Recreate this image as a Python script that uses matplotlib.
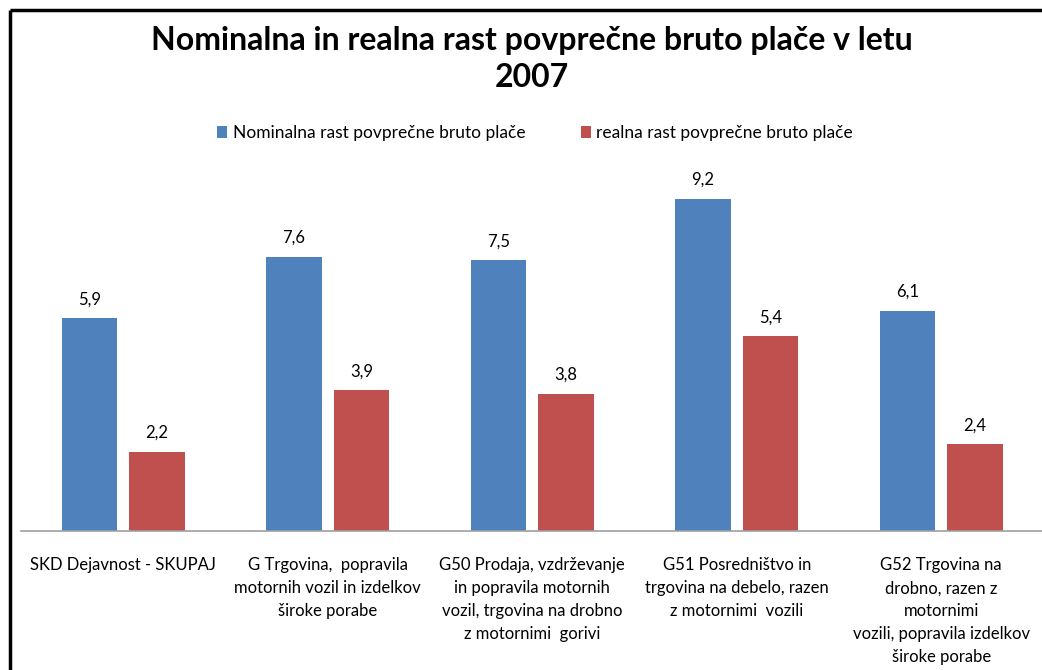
import numpy as np
import matplotlib.pyplot as plt
from matplotlib.lines import Line2D

plt.rcParams['font.family'] = ['Lato', 'DejaVu Sans']

# podatki
categories = [
    "SKD Dejavnost - SKUPAJ",
    "G Trgovina,  popravila\nmotornih vozil in izdelkov\nširoke porabe",
    "G50 Prodaja, vzdrževanje\nin popravila motornih\nvozil, trgovina na drobno\nz motornimi  gorivi",
    "G51 Posredništvo in\ntrgovina na debelo, razen\nz motornimi  vozili",
    "G52 Trgovina na\ndrobno, razen z\nmotornimi\nvozili, popravila izdelkov\nširoke porabe",
]
nominal = [5.9, 7.6, 7.5, 9.2, 6.1]
real = [2.2, 3.9, 3.8, 5.4, 2.4]
series_names = ["Nominalna rast povprečne bruto plače", "realna rast povprečne bruto plače"]

blue = "#4F81BD"
red = "#C0504D"

W, H = 1042, 670
fig = plt.figure(figsize=(W / 100, H / 100), dpi=100)

# okvir grafa (odrezan desno in spodaj) - samo zgornja in leva crta
fy = 1 - 10 / H
fx = 10 / W
fig.lines.append(Line2D([fx, 1.0], [fy, fy], transform=fig.transFigure, color="black",
                        linewidth=2.5, solid_capstyle="butt"))
fig.lines.append(Line2D([fx, fx], [0.0, fy], transform=fig.transFigure, color="black",
                        linewidth=2.5, solid_capstyle="butt"))

# ena kategorija = 204.5 px
cat_px = 204.5
ax = fig.add_axes([21 / W, 1 - 531 / H, (W - 21) / W, 361 / H])
x = np.arange(len(categories))
bw = 0.27
off = 0.165
b1 = ax.bar(x - off, nominal, bw, color=blue, label=series_names[0])
b2 = ax.bar(x + off, real, bw, color=red, label=series_names[1])

for bars, vals in ((b1, nominal), (b2, real)):
    for b, v in zip(bars, vals):
        ax.text(b.get_x() + b.get_width() / 2, v + 0.3, f"{v:.1f}".replace(".", ","),
                ha="center", va="bottom", fontsize=12)

ax.set_xlim(-0.5, -0.5 + (W - 21) / cat_px)
ax.set_ylim(0, 10)
ax.set_yticks([])
ax.set_xticks(x)
ax.set_xticklabels(categories, fontsize=12, linespacing=1.53)
ax.tick_params(axis="x", length=0, pad=19)
for s in ("top", "right", "left"):
    ax.spines[s].set_visible(False)
ax.spines["bottom"].set_color("#A0A0A0")
ax.spines["bottom"].set_linewidth(1.2)

fig.text(532 / W, 1 - 59 / H, "Nominalna in realna rast povprečne bruto plače v letu\n2007",
         ha="center", va="center", fontsize=23, fontweight="bold", linespacing=1.32)

fig.legend(handles=[b1, b2], loc="center", bbox_to_anchor=(535 / W, 1 - 133 / H), ncol=2,
           frameon=False, fontsize=12.5, handlelength=0.6, handleheight=0.7,
           handletextpad=0.3, columnspacing=3.2)

fig.savefig("out.png", dpi=100)
